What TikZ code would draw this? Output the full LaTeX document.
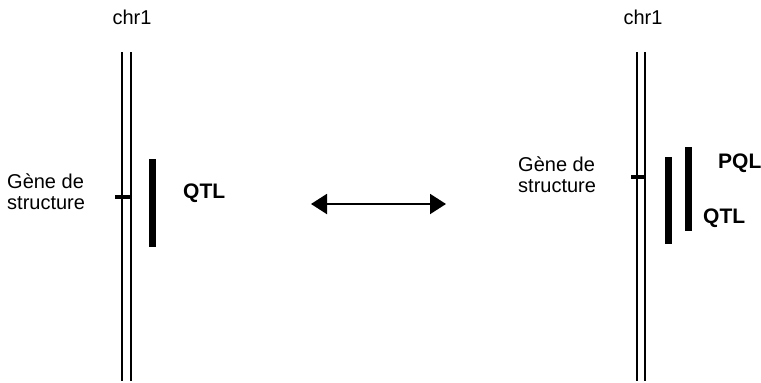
\documentclass[tikz,border=0pt]{standalone}
\usepackage{fontspec}
\setmainfont{Liberation Sans}
\usetikzlibrary{arrows.meta}
\begin{document}
\begin{tikzpicture}[x=1pt,y=-1pt,
  lbl/.style={font=\fontsize{20}{21}\selectfont, inner sep=0pt, align=left},
  blbl/.style={font=\fontsize{21}{22}\selectfont\bfseries, inner sep=0pt},
  chrline/.style={line width=2pt},
  tick/.style={line width=4pt},
  bar/.style={line width=7pt},
  dbl/.style={line width=2pt, {Triangle[length=16pt,width=20pt]}-{Triangle[length=16pt,width=20pt]}}]
\useasboundingbox (0,0) rectangle (761,383);
% left chromosome
\node[lbl] (chrL) at (132,17) {chr1};
\coordinate (L1t) at (122,52); \coordinate (L1b) at (122,381);
\coordinate (L2t) at (131,52); \coordinate (L2b) at (131,381);
\draw[chrline] (L1t) -- (L1b);
\draw[chrline] (L2t) -- (L2b);
\coordinate (tLa) at (115,197); \coordinate (tLb) at (132,197);
\draw[tick] (tLa) -- (tLb);
\node[lbl, anchor=west] (geneL) at (7,192) {Gène de\\structure};
\coordinate (qLt) at (152,159); \coordinate (qLb) at (152,247);
\draw[bar] (qLt) -- (qLb);
\node[blbl, anchor=west] (qtlL) at (183,193) {QTL};
% arrow
\coordinate (aL) at (311,204); \coordinate (aR) at (446,204);
\draw[dbl] (aL) -- (aR);
% right chromosome
\node[lbl] (chrR) at (643,17) {chr1};
\coordinate (R1t) at (637,52); \coordinate (R1b) at (637,381);
\coordinate (R2t) at (645,52); \coordinate (R2b) at (645,381);
\draw[chrline] (R1t) -- (R1b);
\draw[chrline] (R2t) -- (R2b);
\coordinate (tRa) at (631,177); \coordinate (tRb) at (646,177);
\draw[tick] (tRa) -- (tRb);
\node[lbl, anchor=west] (geneR) at (518,175) {Gène de\\structure};
\coordinate (qRt) at (668,157); \coordinate (qRb) at (668,244);
\draw[bar] (qRt) -- (qRb);
\coordinate (pRt) at (688,147); \coordinate (pRb) at (688,231);
\draw[bar] (pRt) -- (pRb);
\node[blbl, anchor=west] (pqlR) at (718,163) {PQL};
\node[blbl, anchor=west] (qtlR) at (703,218) {QTL};
\end{tikzpicture}
\end{document}
